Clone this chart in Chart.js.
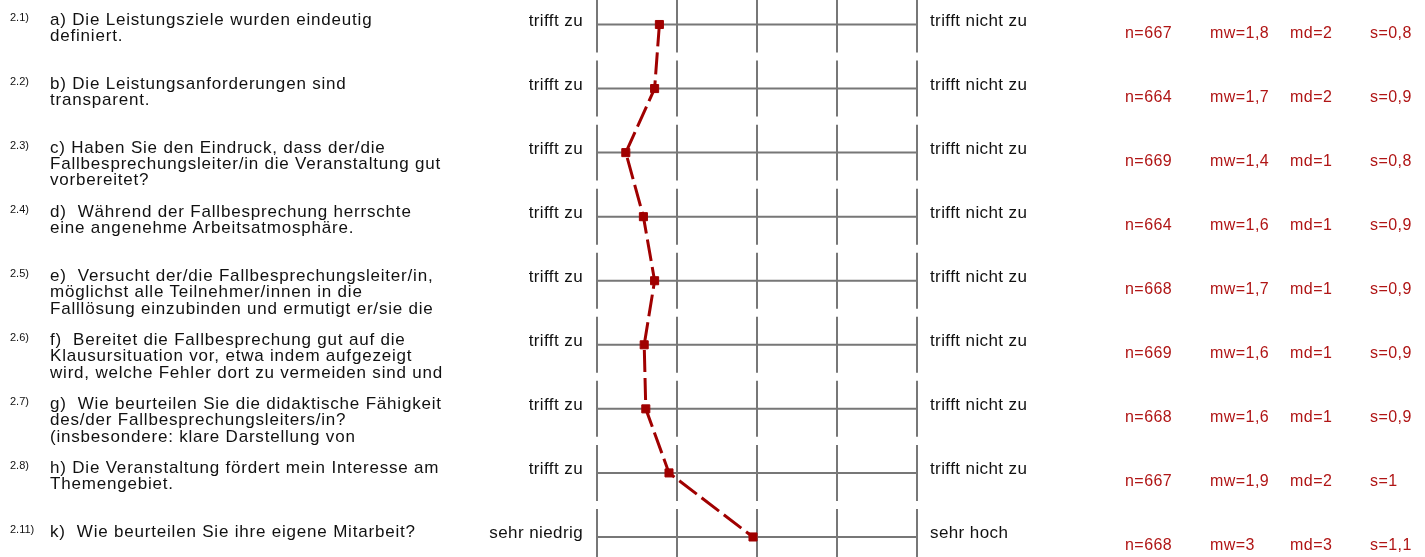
<!DOCTYPE html>
<html lang="de">
<head>
<meta charset="utf-8">
<title>Profillinie</title>
<script src="https://cdn.jsdelivr.net/npm/chart.js@4.4.1/dist/chart.umd.min.js"></script>
<style>
    html, body { margin: 0; padding: 0; background: #fff; }
    #wrap { position: relative; width: 1425px; height: 557px; overflow: hidden; font-family: Arial, "Liberation Sans", sans-serif; }
    #profil { position: absolute; left: 0; top: 0; }
    .txt { position: absolute; white-space: pre; color: #111; }
    .nr { font-size: 11px; line-height: 11px; }
    .frage { font-size: 17px; line-height: 16.3px; letter-spacing: 0.8px; }
    .pol { font-size: 17px; line-height: 17px; letter-spacing: 0.4px; }
    .stat { font-size: 16px; line-height: 16px; color: #b01515; letter-spacing: 0.45px; }
</style>
</head>
<body>
<div id="wrap">
    <canvas id="profil" width="1425" height="557"></canvas>
</div>
<script>
const fragenNummern = ['2.1)', '2.2)', '2.3)', '2.4)', '2.5)', '2.6)', '2.7)', '2.8)', '2.11)'];

const fragenTexte = [
    ['a) Die Leistungsziele wurden eindeutig', 'definiert.'],
    ['b) Die Leistungsanforderungen sind', 'transparent.'],
    ['c) Haben Sie den Eindruck, dass der/die', 'Fallbesprechungsleiter/in die Veranstaltung gut', 'vorbereitet?'],
    ['d)  Während der Fallbesprechung herrschte', 'eine angenehme Arbeitsatmosphäre.'],
    ['e)  Versucht der/die Fallbesprechungsleiter/in,', 'möglichst alle Teilnehmer/innen in die', 'Falllösung einzubinden und ermutigt er/sie die'],
    ['f)  Bereitet die Fallbesprechung gut auf die', 'Klausursituation vor, etwa indem aufgezeigt', 'wird, welche Fehler dort zu vermeiden sind und'],
    ['g)  Wie beurteilen Sie die didaktische Fähigkeit', 'des/der Fallbesprechungsleiters/in?', '(insbesondere: klare Darstellung von'],
    ['h) Die Veranstaltung fördert mein Interesse am', 'Themengebiet.'],
    ['k)  Wie beurteilen Sie ihre eigene Mitarbeit?']
];

const polLinks = ['trifft zu', 'trifft zu', 'trifft zu', 'trifft zu', 'trifft zu', 'trifft zu', 'trifft zu', 'trifft zu', 'sehr niedrig'];
const polRechts = ['trifft nicht zu', 'trifft nicht zu', 'trifft nicht zu', 'trifft nicht zu', 'trifft nicht zu', 'trifft nicht zu', 'trifft nicht zu', 'trifft nicht zu', 'sehr hoch'];

// Lage der Marker, aus dem Bild gelesen
const mittelwerte = [1.78, 1.72, 1.36, 1.58, 1.72, 1.59, 1.61, 1.9, 2.95];

const anzahl = ['667', '664', '669', '664', '668', '669', '668', '667', '668'];
const mwTexte = ['1,8', '1,7', '1,4', '1,6', '1,7', '1,6', '1,6', '1,9', '3'];
const mdTexte = ['2', '2', '1', '1', '1', '1', '1', '2', '3'];
const sTexte = ['0,8', '0,9', '0,8', '0,9', '0,9', '0,9', '0,9', '1', '1,1'];

const skalaStufen = [1, 2, 3, 4, 5];

const profilSeleciona = (selector) => document.querySelector(selector);

const rasterPlugin = {
    id: 'raster',
    beforeDatasetsDraw(chart) {
        const ctx = chart.ctx;
        const xs = chart.scales.x;
        const ys = chart.scales.y;
        const links = xs.getPixelForValue(skalaStufen[0]);
        const rechts = xs.getPixelForValue(skalaStufen[skalaStufen.length - 1]);
        ctx.save();
        ctx.strokeStyle = '#777777';
        ctx.lineWidth = 2;
        fragenNummern.forEach((_, i) => {
            const y = ys.getPixelForValue(i);
            const oben = ys.getPixelForValue(i - 0.437);
            const unten = ys.getPixelForValue(i + 0.437);
            ctx.beginPath();
            ctx.moveTo(links, y);
            ctx.lineTo(rechts, y);
            skalaStufen.forEach((st) => {
                const x = xs.getPixelForValue(st);
                ctx.moveTo(x, oben);
                ctx.lineTo(x, unten);
            });
            ctx.stroke();
        });
        ctx.restore();
    }
};

const profilText = (klasse, text, left, top, rechtsbuendig) => {
    const el = document.createElement('div');
    el.className = 'txt ' + klasse;
    el.textContent = text;
    el.style.top = top + 'px';
    if (rechtsbuendig) {
        el.style.right = (1425 - left) + 'px';
    } else {
        el.style.left = left + 'px';
    }
    profilSeleciona('#wrap').appendChild(el);
};

const profilBeschriften = (chart) => {
    const xs = chart.scales.x;
    const ys = chart.scales.y;
    const links = xs.getPixelForValue(skalaStufen[0]);
    const rechts = xs.getPixelForValue(skalaStufen[skalaStufen.length - 1]);

    fragenNummern.forEach((nr, i) => {
        const y = ys.getPixelForValue(i);
        profilText('nr', nr, 10, y - 12.8);
        profilText('frage', fragenTexte[i].join('\n'), 50, y - 12.8);
        profilText('pol', polLinks[i], links - 14, y - 13, true);
        profilText('pol', polRechts[i], rechts + 13, y - 13);
        profilText('stat', 'n=' + anzahl[i], 1125, y);
        profilText('stat', 'mw=' + mwTexte[i], 1210, y);
        profilText('stat', 'md=' + mdTexte[i], 1290, y);
        profilText('stat', 's=' + sTexte[i], 1370, y);
    });
};

const profilInit = () => {
    const ctx = profilSeleciona('#profil');
    const zeileHoehe = 64.06;
    const ersteZeile = 24.5;
    const stufeBreite = 80;
    const ersteStufe = 597;

    const chart = new Chart(ctx, {
        type: 'scatter',
        data: {
            datasets: [
                {
                    data: mittelwerte.map((mw, i) => ({ x: mw, y: i })),
                    showLine: true,
                    borderColor: '#a00000',
                    backgroundColor: '#a00000',
                    borderWidth: 3,
                    borderDash: [22, 6],
                    pointStyle: 'rect',
                    pointRadius: 5.7,
                    pointBorderWidth: 1,
                    pointBorderColor: '#a00000',
                    pointBackgroundColor: '#a00000'
                }
            ]
        },
        options: {
            responsive: false,
            animation: false,
            events: [],
            layout: { padding: 0, autoPadding: false },
            plugins: {
                legend: { display: false },
                tooltip: { enabled: false }
            },
            scales: {
                x: {
                    type: 'linear',
                    display: false,
                    min: 1 - ersteStufe / stufeBreite,
                    max: 1 + (1425 - ersteStufe) / stufeBreite
                },
                y: {
                    type: 'linear',
                    display: false,
                    reverse: true,
                    min: -ersteZeile / zeileHoehe,
                    max: (557 - ersteZeile) / zeileHoehe
                }
            }
        },
        plugins: [rasterPlugin]
    });

    profilBeschriften(chart);
};

if (document.readyState === 'loading') {
    document.addEventListener('DOMContentLoaded', profilInit);
} else {
    profilInit();
}
</script>
</body>
</html>
